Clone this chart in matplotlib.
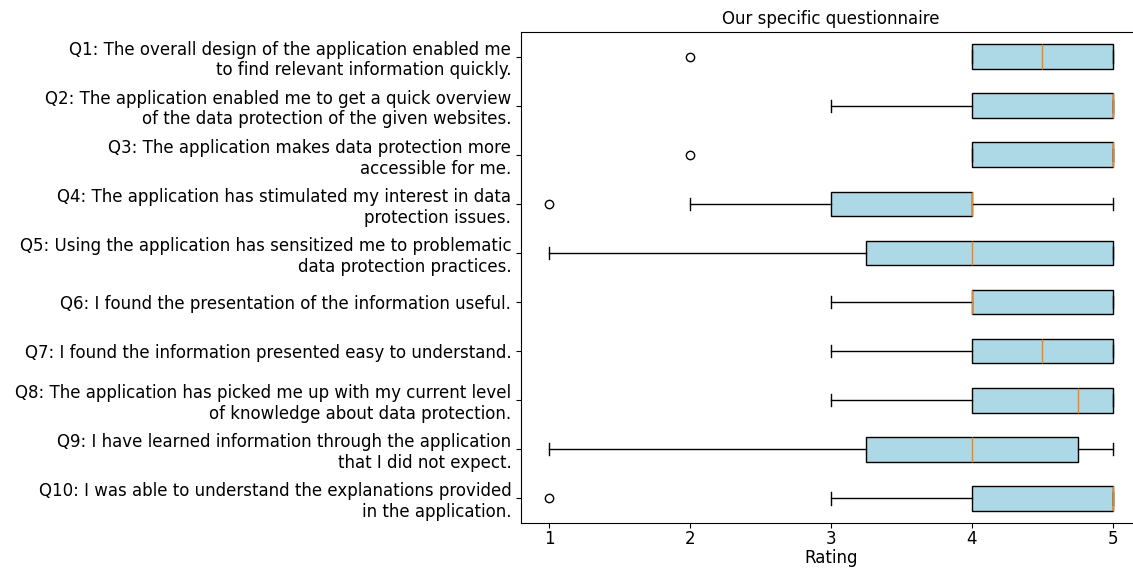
import matplotlib
matplotlib.use("Agg")
import matplotlib.pyplot as plt

# Box statistics (ratings 1..5)
questions = [
    "Q1: The overall design of the application enabled me\nto find relevant information quickly.",
    "Q2: The application enabled me to get a quick overview\nof the data protection of the given websites.",
    "Q3: The application makes data protection more\naccessible for me.",
    "Q4: The application has stimulated my interest in data\nprotection issues.",
    "Q5: Using the application has sensitized me to problematic\ndata protection practices.",
    "Q6: I found the presentation of the information useful.",
    "Q7: I found the information presented easy to understand.",
    "Q8: The application has picked me up with my current level\nof knowledge about data protection.",
    "Q9: I have learned information through the application\nthat I did not expect.",
    "Q10: I was able to understand the explanations provided\nin the application.",
]
q1_vals = [4, 4, 4, 3, 3.25, 4, 4, 4, 3.25, 4]
medians = [4.5, 5, 5, 4, 4, 4, 4.5, 4.75, 4, 5]
q3_vals = [5, 5, 5, 4, 5, 5, 5, 5, 4.75, 5]
whis_lo = [4, 3, 4, 2, 1, 3, 3, 3, 1, 3]
whis_hi = [5, 5, 5, 5, 5, 5, 5, 5, 5, 5]
outliers = [[2], [], [2], [1], [], [], [], [], [], [1]]

stats = []
for i in range(len(questions)):
    stats.append({
        "q1": q1_vals[i],
        "med": medians[i],
        "q3": q3_vals[i],
        "whislo": whis_lo[i],
        "whishi": whis_hi[i],
        "fliers": outliers[i],
    })

fig = plt.figure(figsize=(11.33, 5.69), dpi=100)
ax = fig.add_axes([521 / 1133, 1 - 523 / 569, 620 / 1133, 491 / 569])

positions = list(range(1, len(questions) + 1))
ax.bxp(stats, positions=positions, vert=False, patch_artist=True,
       boxprops={"facecolor": "lightblue"})

ax.set_xlim(0.8, 5.2)
ax.set_ylim(10.5, 0.5)
ax.set_yticks(positions)
ax.set_yticklabels(questions, fontsize=12)
ax.set_xticks([1, 2, 3, 4, 5])
ax.tick_params(axis="x", labelsize=12, pad=1.5)
ax.set_xlabel("Rating", fontsize=12, labelpad=1)
ax.set_title("Our specific questionnaire", fontsize=12)

fig.savefig("out.png", dpi=100)
